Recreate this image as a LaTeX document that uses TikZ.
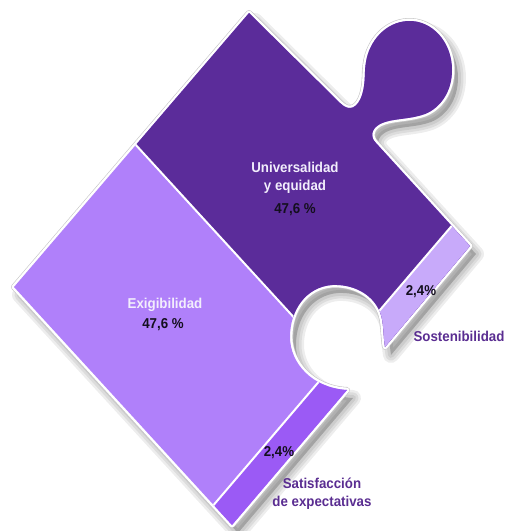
\documentclass[tikz,border=0pt]{standalone}
\usepackage{fontspec}
\setmainfont{Liberation Sans}[FakeStretch=0.93]
\definecolor{univ}{RGB}{91,44,154}
\definecolor{exig}{RGB}{176,128,250}
\definecolor{sost}{RGB}{200,170,250}
\definecolor{satis}{RGB}{155,90,245}
\definecolor{lblpurple}{RGB}{90,45,145}
\definecolor{lblwhite}{RGB}{242,238,252}
\definecolor{numblack}{RGB}{20,15,30}
\begin{document}
\begin{tikzpicture}[x=1pt,y=-1pt,
  lbl/.style={font=\fontsize{14.3}{16}\selectfont\bfseries, inner sep=0pt, anchor=base},
  wlbl/.style={lbl, text=lblwhite},
  num/.style={lbl, text=numblack},
  plbl/.style={lbl, text=lblpurple},
  divider/.style={draw=white, line width=2pt}]
\useasboundingbox (0,0) rectangle (505,531);
\def\piecepath{(249,13) -- (340,103)
  .. controls (350,113) and (358,107) .. (362,95)
  .. controls (366,82) and (364,72) .. (366,62)
  .. controls (369,42) and (385,22) .. (408,21)
  .. controls (432,20) and (452,42) .. (452,70)
  .. controls (452,92) and (440,108) .. (425,114)
  .. controls (408,120) and (392,118) .. (380,124)
  .. controls (371,129) and (370,137) .. (376,143)
  -- (470,246) -- (385,347)
  .. controls (383,335) and (384,322) .. (380,312)
  .. controls (372,293) and (352,284) .. (332,285)
  .. controls (306,287) and (290,310) .. (290,337)
  .. controls (290,363) and (312,388) .. (347,390)
  -- (232,525) -- (14,287) -- cycle}
% shadow
\begin{scope}[shift={(6,8)}]
  \foreach \w in {16,11,6} {\draw[black, opacity=0.07, line width=\w pt, line join=round] \piecepath;}
  \fill[black, opacity=0.2] \piecepath;
\end{scope}
% rim
\draw[draw=gray!45, line width=6pt, line join=round] \piecepath;
\draw[draw=white, line width=4.8pt, line join=round] \piecepath;
% coloured areas
\begin{scope}
  \clip \piecepath;
  \fill[exig] (0,0) rectangle (505,531);
  \fill[univ] (4,1) -- (462,501) -- (700,300) -- (400,-100) -- cycle;
  \fill[sost] (568.5,89) -- (347.2,348.5) -- (423.2,413.5) -- (644.5,154) -- cycle;
  \fill[satis] (347.2,348.5) -- (92.5,647) -- (168.5,712) -- (423.2,413.5) -- cycle;
  \draw[divider] (91,96) -- (299,323);
  \draw[divider] (568.5,89) -- (92.5,647);
\end{scope}
% labels
\node[wlbl] (u1) at (295,172) {Universalidad};
\node[wlbl] (u2) at (295,190) {y equidad};
\node[num]  (u3) at (295,213) {47,6 \%};
\node[wlbl] (e1) at (165,308) {Exigibilidad};
\node[num]  (e2) at (163,328) {47,6 \%};
\node[num]  (s1) at (421,295) {2,4\%};
\node[plbl] (s2) at (459,341) {Sostenibilidad};
\node[num]  (t1) at (279,456) {2,4\%};
\node[plbl] (t2) at (322,488) {Satisfacción};
\node[plbl] (t3) at (322,506) {de expectativas};
\end{tikzpicture}
\end{document}
